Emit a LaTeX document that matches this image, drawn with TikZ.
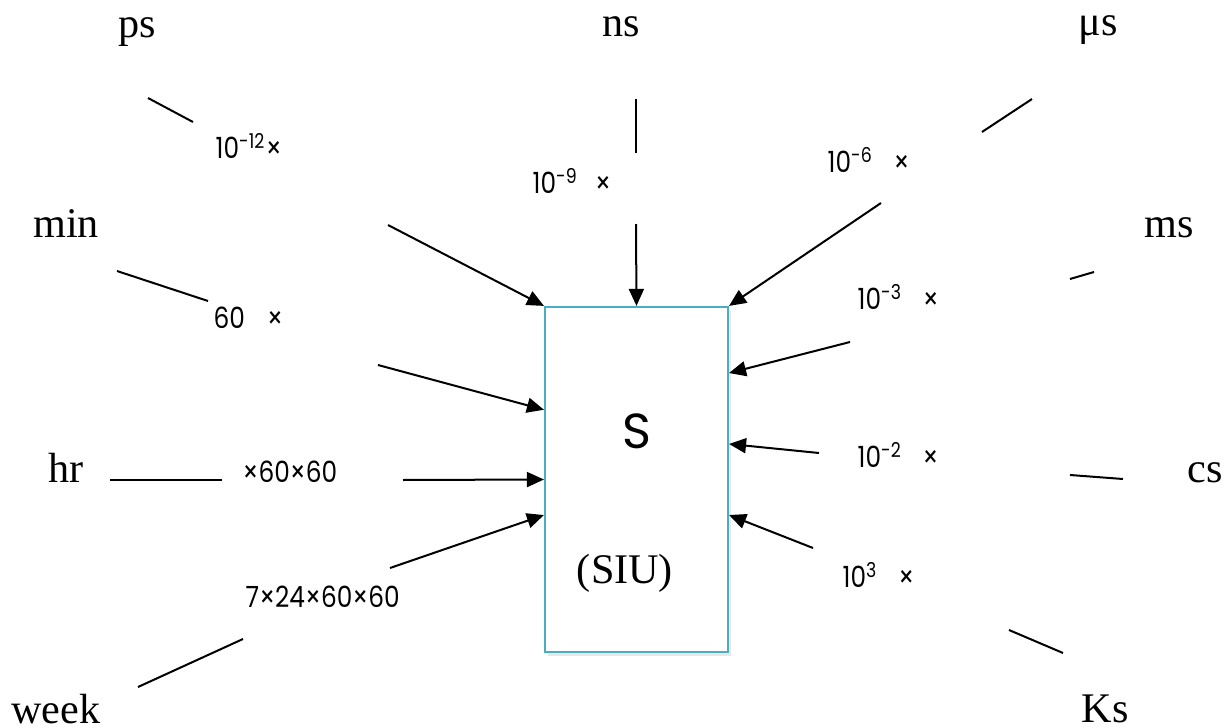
\documentclass[tikz,border=0pt]{standalone}
\usepackage{fontspec}
\setmainfont{Liberation Serif}
\newfontfamily\labelfont{Poppins}
\usetikzlibrary{arrows.meta,shadows}
\definecolor{boxblue}{HTML}{4BACC6}
\newcommand{\gap}{\hspace{2.4mm}}
\newcommand{\fac}[1]{\scalebox{0.85}[1]{#1}}
\begin{document}
\begin{tikzpicture}[
		x=0.01cm, y=-0.01cm,
		unit/.style={font=\fontsize{12}{14}\selectfont, anchor=base, inner sep=0pt},
		factor/.style={font=\labelfont\fontsize{8.3}{9}\selectfont, anchor=base west, inner sep=0pt},
		seg/.style={line width=0.2mm},
		arr/.style={line width=0.2mm, -{Triangle[length=1.7mm, width=1.5mm]}}
	]
		\useasboundingbox (0,0) rectangle (1226,727);
		
		% central box
		\node[draw=boxblue, line width=0.2mm, fill=white, minimum width=1.83cm, minimum height=3.45cm,
			drop shadow={shadow xshift=0.3mm, shadow yshift=-0.4mm, opacity=0.18}] (siu) at (636.5,479.5) {};
		\node[font=\labelfont\fontsize{14}{16}\selectfont, anchor=base, inner sep=0pt] (sym) at (636.5,448) {S};
		\node[unit] (siuname) at (625,583) {(SIU)};
		
		% units
		\node[unit] (ps) at (137,37) {ps};
		\node[unit] (ns) at (621,36) {ns};
		\node[unit] (mus) at (1098,35) {μs};
		\node[unit] (min) at (66,237) {min};
		\node[unit] (ms) at (1169,237) {ms};
		\node[unit] (hr) at (66,482) {hr};
		\node[unit] (cs) at (1205,482) {cs};
		\node[unit] (week) at (56,723) {week};
		\node[unit] (Ks) at (1105,722) {Ks};
		
		% conversion factors
		\node[factor] (fps) at (215,158) {\fac{10\textsuperscript{-12}×}};
		\node[factor] (fns) at (532,193) {\fac{10\textsuperscript{-9}\hspace{2mm}×}};
		\node[factor] (fmus) at (827,172) {\fac{10\textsuperscript{-6}\gap×}};
		\node[factor] (fmin) at (213,328) {\fac{60\hspace{2.6mm}×}};
		\node[factor] (fms) at (857,309) {\fac{10\textsuperscript{-3}\gap×}};
		\node[factor] (fhr) at (242,482) {\fac{×60×60}};
		\node[factor] (fcs) at (857,467) {\fac{10\textsuperscript{-2}\gap×}};
		\node[factor] (fweek) at (245,607) {\fac{7×24×60×60}};
		\node[factor] (fKs) at (842,587) {\fac{10\textsuperscript{3}\gap×}};
		
		% line pieces
		\coordinate (psA) at (148,98);    \coordinate (psB) at (193,122);   \coordinate (psC) at (388,225);
		\coordinate (nsA) at (636,99);    \coordinate (nsB) at (636,153);   \coordinate (nsC) at (636,224);
		\coordinate (musA) at (1032,99);  \coordinate (musB) at (982,132);  \coordinate (musC) at (881,203);
		\coordinate (minA) at (117,271);  \coordinate (minB) at (208,301);  \coordinate (minC) at (378,365);
		\coordinate (msA) at (1094,272);  \coordinate (msB) at (1070,279);  \coordinate (msC) at (850,342);
		\coordinate (hrA) at (110,480);   \coordinate (hrB) at (222,480);   \coordinate (hrC) at (403,480);
		\coordinate (csA) at (1123,479);  \coordinate (csB) at (1070,475);  \coordinate (csC) at (819,453);
		\coordinate (weekA) at (138,687); \coordinate (weekB) at (243,639); \coordinate (weekC) at (390,568);
		\coordinate (KsA) at (1063,653);  \coordinate (KsB) at (1009,630);  \coordinate (KsC) at (813,548);
		
		\foreach \u in {ps,ns,mus,min,ms,hr,cs,week,Ks}
			\draw[seg] (\u A) -- (\u B);
		
		\draw[arr] (psC) -- (siu.north west);
		\draw[arr] (nsC) -- (siu.north);
		\draw[arr] (musC) -- (siu.north east);
		\draw[arr] (minC) -- (siu.143);
		\draw[arr] (hrC) -- (siu.180);
		\draw[arr] (weekC) -- (siu.201);
		\draw[arr] (msC) -- (siu.49);
		\draw[arr] (csC) -- (siu.21);
		\draw[arr] (KsC) -- (siu.339);
	\end{tikzpicture}
\end{document}
